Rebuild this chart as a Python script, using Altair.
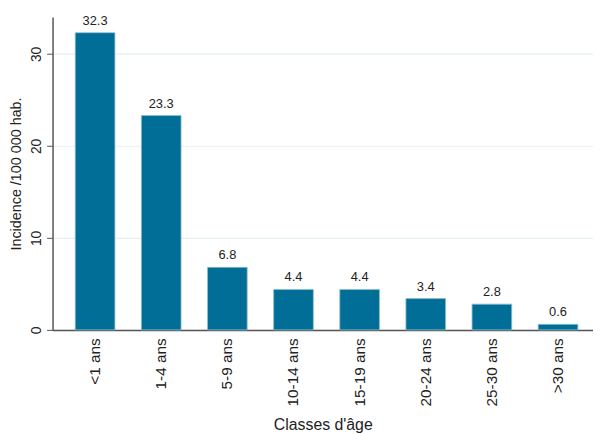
import altair as alt
import pandas as pd

categories = ["<1 ans", "1-4 ans", "5-9 ans", "10-14 ans", "15-19 ans", "20-24 ans", "25-30 ans", ">30 ans"]
values = [32.3, 23.3, 6.8, 4.4, 4.4, 3.4, 2.8, 0.6]
labels = ["32.3", "23.3", "6.8", "4.4", "4.4", "3.4", "2.8", "0.6"]
y_ticks = [0, 10, 20, 30]

df = pd.DataFrame({"cat": categories, "val": values, "lab": labels})

FONT = "Liberation Sans"
BAR = "#006e96"

x = alt.X("cat:N", sort=categories,
          scale=alt.Scale(paddingInner=0.4, paddingOuter=0.286, align=0.6),
          axis=alt.Axis(title="Classes d'âge", labelAngle=-90, labelAlign="right",
                        labelBaseline="middle", ticks=False, labelPadding=8,
                        labelFontSize=15.5, labelColor="#222", titleFontSize=16,
                        titleFont=FONT, labelFont=FONT, titleFontWeight="normal",
                        titleColor="#222", titlePadding=11,
                        domainColor="#555", domainWidth=1.5))
y = alt.Y("val:Q", scale=alt.Scale(domain=[0, 34], nice=False),
          axis=alt.Axis(title="Incidence /100 000 hab.", values=y_ticks, labelAngle=-90,
                        labelAlign="center", labelBaseline="bottom", tickSize=6,
                        tickColor="#555", labelPadding=3, labelFontSize=14,
                        labelColor="#222", titleFontSize=14.5, titleFont=FONT, labelFont=FONT,
                        titleFontWeight="normal", titleColor="#222", titlePadding=6,
                        domainColor="#555", domainWidth=1.5, gridColor="#e6eff1",
                        gridWidth=1.2))

bars = alt.Chart(df).mark_bar(color=BAR, stroke="#8fbdd0", strokeWidth=0.8).encode(x=x, y=y)
text = alt.Chart(df).mark_text(dy=-5, baseline="bottom", fontSize=13, font=FONT, color="#222").encode(
    x=alt.X("cat:N", sort=categories), y="val:Q", text="lab:N")

chart = (bars + text).properties(
    width=546, height=316,
    padding={"top": 4, "left": 1, "right": 0, "bottom": 0},
).configure_view(stroke=None)

chart.save("out.html", embed_options={"renderer": "svg", "actions": False})
